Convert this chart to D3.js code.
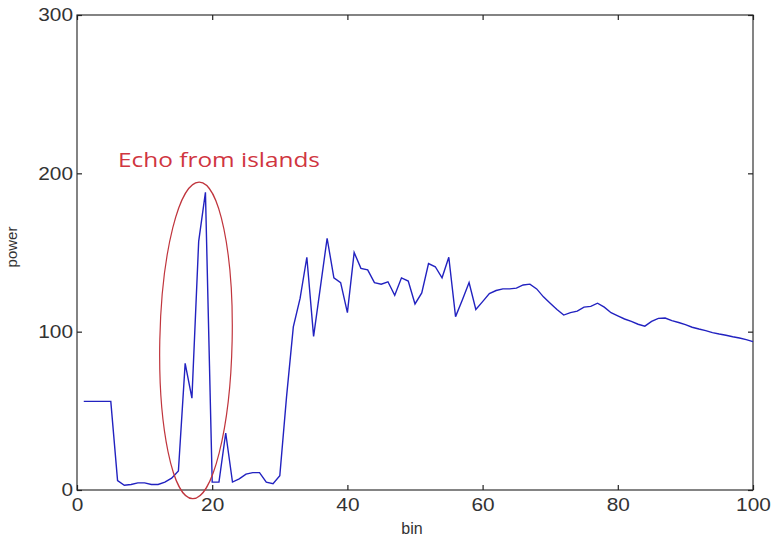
<!DOCTYPE html>
<html>
<head>
<meta charset="utf-8">
<script src="https://cdn.jsdelivr.net/npm/d3@7"></script>
<style>
  body { margin: 0; background: #fff; }
  svg { display: block; }
  .tick text { font-family: "Liberation Sans", Arial, sans-serif; font-size: 18.5px; fill: #333; }
</style>
</head>
<body>
<svg></svg>
<script>
var width = 774;
var height = 545;

// power per range bin (bins 1..100)
var power = [
  56, 56, 56, 56, 56, 6, 3, 3.5, 4.5, 4.5,
  3.5, 3.5, 5, 7.5, 12, 80, 58, 157, 188, 5,
  5, 36, 5, 7, 10, 11, 11, 5, 4, 9,
  59, 103, 121, 147, 97, 128, 159, 134, 131, 112,
  150, 140, 139, 131, 130, 131.5, 123, 134, 132, 117.5,
  124.5, 143, 141, 134, 147, 109.5, 120, 131, 114, 119,
  124, 126, 127, 127, 127.5, 129.5, 130, 127, 122, 118,
  114, 110.5, 112, 113, 115.5, 116, 118, 115.5, 112, 110,
  108, 106.5, 104.7, 103.5, 106.5, 108.4, 108.6, 107, 105.8, 104.4,
  102.8, 101.7, 100.7, 99.4, 98.5, 97.7, 96.8, 96, 95, 93.7
];
var bins = power.map((p, i) => i + 1);

var xTicks = [0, 20, 40, 60, 80, 100];
var yTicks = [0, 100, 200, 300];

var padLeft = 77, padRight = 753, padTop = 15, padBottom = 490;

var xScale = d3.scaleLinear().domain([0, 100]).range([padLeft, padRight]);
var yScale = d3.scaleLinear().domain([0, 300]).range([padBottom, padTop]);

var svg = d3.select("svg")
    .attr("width", width)
    .attr("height", height);

// box
svg.append("rect")
    .attr("x", padLeft)
    .attr("y", padTop)
    .attr("width", padRight - padLeft)
    .attr("height", padBottom - padTop)
    .attr("fill", "none")
    .attr("stroke", "#333")
    .attr("stroke-width", 1.2);

var xAxis = d3.axisBottom(xScale).tickValues(xTicks).tickSizeInner(-5).tickSizeOuter(0).tickPadding(8);
var yAxis = d3.axisLeft(yScale).tickValues(yTicks).tickSizeInner(-5).tickSizeOuter(0).tickPadding(4);

function styleAxis(g) {
  g.select(".domain").remove();
  g.selectAll(".tick line").attr("stroke", "#222").attr("stroke-width", 1.2);
  // the picture's digits are a bit wider than Arial
  g.selectAll(".tick text")
      .attr("textLength", d => String(d).length * 11.6)
      .attr("lengthAdjust", "spacingAndGlyphs");
}

svg.append("g")
    .attr("transform", "translate(0," + padBottom + ")")
    .call(xAxis)
    .call(styleAxis);
svg.append("g")
    .attr("transform", "translate(" + padLeft + ",0)")
    .call(yAxis)
    .call(styleAxis);
// mirrored ticks on top and right
svg.append("g")
    .attr("transform", "translate(0," + padTop + ")")
    .call(d3.axisTop(xScale).tickValues(xTicks).tickSizeInner(-5).tickSizeOuter(0).tickFormat(""))
    .call(styleAxis);
svg.append("g")
    .attr("transform", "translate(" + padRight + ",0)")
    .call(d3.axisRight(yScale).tickValues(yTicks).tickSizeInner(-5).tickSizeOuter(0).tickFormat(""))
    .call(styleAxis);

var line = d3.line()
    .x((d, i) => xScale(bins[i]))
    .y(d => yScale(d));

svg.append("path")
    .datum(power)
    .attr("fill", "none")
    .attr("stroke", "#2222c0")
    .attr("stroke-width", 1.4)
    .attr("d", line);

// annotation
var cx = xScale(17.6), cy = yScale(94.5);
svg.append("ellipse")
    .attr("cx", cx)
    .attr("cy", cy)
    .attr("rx", xScale(5.35) - xScale(0))
    .attr("ry", yScale(0) - yScale(100))
    .attr("transform", "rotate(1.2," + cx + "," + cy + ")")
    .attr("fill", "none")
    .attr("stroke", "#c0353d")
    .attr("stroke-width", 1.2);

svg.append("text")
    .attr("x", 118)
    .attr("y", 167)
    .attr("font-family", "'Open Sans', 'Noto Sans', sans-serif")
    .attr("font-size", 20)
    .attr("fill", "#d0353f")
    .attr("textLength", 202)
    .attr("lengthAdjust", "spacingAndGlyphs")
    .text("Echo from islands");

svg.append("text")
    .attr("x", 412)
    .attr("y", 534)
    .attr("text-anchor", "middle")
    .attr("font-family", "'Liberation Sans', Arial, sans-serif")
    .attr("font-size", 16)
    .attr("fill", "#333")
    .text("bin");

svg.append("text")
    .attr("transform", "rotate(-90)")
    .attr("x", -247)
    .attr("y", 17)
    .attr("text-anchor", "middle")
    .attr("font-family", "'Liberation Sans', Arial, sans-serif")
    .attr("font-size", 15)
    .attr("fill", "#333")
    .text("power");
</script>
</body>
</html>
